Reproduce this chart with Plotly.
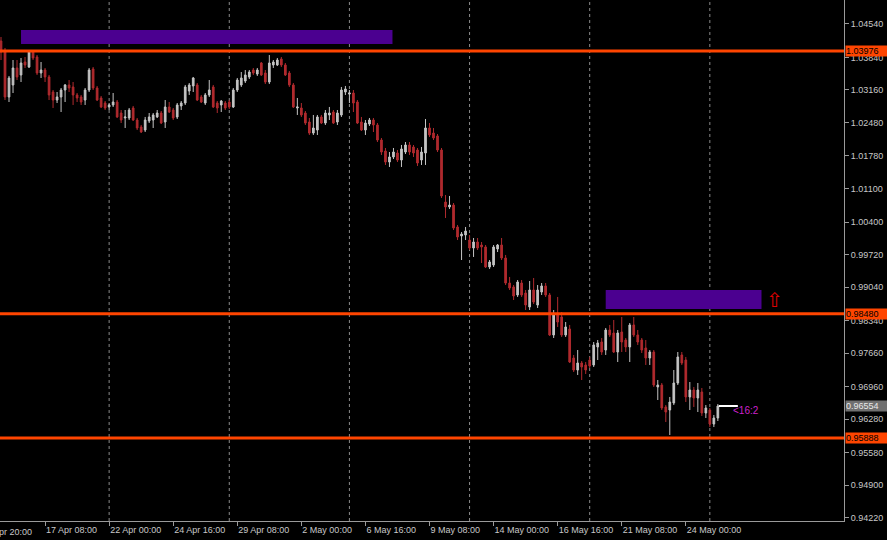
import plotly.graph_objects as go

# ---------------- data (H4 candles, index 0 = first visible bar) ----------------
opens = [1.04183, 1.03953, 1.03013, 1.03264, 1.03619, 1.03473, 1.03744, 1.03640, 1.03953, 1.03849,
         1.03514, 1.03577, 1.03431, 1.03117, 1.02950, 1.03013, 1.03159, 1.03264, 1.03222, 1.03055,
         1.03013, 1.02950, 1.03159, 1.03598, 1.03201, 1.02992, 1.02887, 1.02804, 1.02846, 1.02908,
         1.02678, 1.02574, 1.02574, 1.02783, 1.02532, 1.02386, 1.02323, 1.02511, 1.02532, 1.02595,
         1.02678, 1.02490, 1.02804, 1.02741, 1.02595, 1.02825, 1.02887, 1.03138, 1.03243, 1.03264,
         1.03013, 1.02887, 1.03055, 1.03222, 1.02887, 1.02846, 1.02887, 1.02908, 1.02804, 1.03159,
         1.03264, 1.03347, 1.03431, 1.03577, 1.03493, 1.03723, 1.03514, 1.03326, 1.03682, 1.03682,
         1.03807, 1.03682, 1.03514, 1.03264, 1.02783, 1.02783, 1.02678, 1.02490, 1.02260, 1.02323,
         1.02595, 1.02469, 1.02637, 1.02699, 1.02490, 1.02637, 1.03117, 1.03075, 1.03096, 1.02908,
         1.02490, 1.02323, 1.02448, 1.02532, 1.02428, 1.02114, 1.01884, 1.01654, 1.01759, 1.01842,
         1.01696, 1.01863, 1.02010, 1.01968, 1.01905, 1.01696, 1.01842, 1.02365, 1.02260, 1.02198,
         1.01905, 1.00818, 1.00714, 1.00755, 1.00296, 1.00108, 1.00129, 1.00024, 0.99857, 0.99982,
         0.99919, 0.99878, 0.99460, 0.99502, 0.99836, 0.99919, 0.99648, 0.99125, 0.99042, 0.98875,
         0.99125, 0.98916, 0.98624, 0.98979, 0.98665, 0.98937, 0.99063, 0.98875, 0.98039, 0.98457,
         0.98415, 0.98039, 0.98164, 0.97558, 0.97307, 0.97453, 0.97412, 0.97516, 0.97412, 0.97788,
         0.97892, 0.97725, 0.98143, 0.98080, 0.97683, 0.98101, 0.97934, 0.97788, 0.98248, 0.98039,
         0.97934, 0.97767, 0.97558, 0.97683, 0.96952, 0.96993, 0.96534, 0.96471, 0.96617, 0.97035,
         0.97621, 0.97516, 0.96743, 0.96889, 0.96722, 0.96847, 0.96408, 0.96471, 0.96178, 0.96304]
highs = [1.04267, 1.04037, 1.03452, 1.03786, 1.03786, 1.03828, 1.03849, 1.03995, 1.03995, 1.03890,
         1.03744, 1.03619, 1.03473, 1.03159, 1.03117, 1.03201, 1.03284, 1.03368, 1.03326, 1.03096,
         1.03055, 1.03201, 1.03619, 1.03640, 1.03243, 1.03034, 1.02929, 1.02887, 1.03096, 1.02950,
         1.02741, 1.02741, 1.02783, 1.02825, 1.02574, 1.02428, 1.02595, 1.02678, 1.02678, 1.02741,
         1.02720, 1.02950, 1.02908, 1.02783, 1.02887, 1.02929, 1.03264, 1.03305, 1.03431, 1.03305,
         1.03055, 1.03096, 1.03368, 1.03264, 1.02929, 1.02950, 1.02929, 1.02950, 1.03201, 1.03410,
         1.03535, 1.03577, 1.03577, 1.03619, 1.03619, 1.03744, 1.03577, 1.03890, 1.03786, 1.03828,
         1.03849, 1.03723, 1.03556, 1.03305, 1.02992, 1.02887, 1.02720, 1.02574, 1.02637, 1.02637,
         1.02637, 1.02741, 1.02804, 1.02741, 1.02741, 1.03222, 1.03243, 1.03159, 1.03159, 1.02950,
         1.02595, 1.02532, 1.02574, 1.02574, 1.02469, 1.02156, 1.01947, 1.01863, 1.01947, 1.01905,
         1.02010, 1.02072, 1.02072, 1.02010, 1.01947, 1.01968, 1.02553, 1.02469, 1.02365, 1.02239,
         1.01947, 1.00964, 1.00944, 1.00797, 1.00338, 1.00191, 1.00296, 1.00129, 1.00066, 1.00066,
         0.99982, 0.99919, 0.99606, 0.99919, 0.99940, 1.00066, 0.99711, 0.99251, 0.99083, 0.99188,
         0.99188, 0.98979, 0.99167, 0.99230, 0.99083, 0.99125, 0.99125, 0.98916, 0.98561, 0.98833,
         0.98519, 0.98310, 0.98248, 0.97621, 0.97725, 0.97495, 0.97474, 0.97579, 0.97892, 0.97934,
         0.97976, 0.98185, 0.98248, 0.98352, 0.98143, 0.98415, 0.97976, 0.98289, 0.98415, 0.98143,
         0.97976, 0.97934, 0.97725, 0.97725, 0.97098, 0.97035, 0.96575, 0.96743, 0.97307, 0.97683,
         0.97683, 0.97579, 0.97056, 0.96952, 0.97035, 0.96931, 0.96575, 0.96513, 0.96367, 0.96596]
lows = [1.03786, 1.02950, 1.02908, 1.03096, 1.03368, 1.03326, 1.03619, 1.03619, 1.03786, 1.03473,
        1.03410, 1.03326, 1.02950, 1.02783, 1.02887, 1.02699, 1.02908, 1.03117, 1.02846, 1.02908,
        1.02846, 1.02846, 1.03117, 1.03159, 1.02929, 1.02783, 1.02741, 1.02741, 1.02804, 1.02574,
        1.02469, 1.02365, 1.02532, 1.02511, 1.02323, 1.02260, 1.02281, 1.02469, 1.02365, 1.02574,
        1.02448, 1.02365, 1.02678, 1.02532, 1.02553, 1.02741, 1.02846, 1.03055, 1.03117, 1.02929,
        1.02887, 1.02846, 1.03013, 1.02783, 1.02678, 1.02699, 1.02741, 1.02762, 1.02783, 1.03117,
        1.03222, 1.03305, 1.03389, 1.03473, 1.03452, 1.03452, 1.03284, 1.03284, 1.03619, 1.03661,
        1.03640, 1.03452, 1.03222, 1.02783, 1.02637, 1.02595, 1.02428, 1.02219, 1.02219, 1.02219,
        1.02448, 1.02428, 1.02532, 1.02448, 1.02428, 1.02595, 1.03055, 1.02887, 1.02699, 1.02448,
        1.02302, 1.02219, 1.02407, 1.02281, 1.02072, 1.01801, 1.01592, 1.01550, 1.01717, 1.01654,
        1.01550, 1.01821, 1.01801, 1.01759, 1.01571, 1.01592, 1.01592, 1.02177, 1.02114, 1.01863,
        1.00902, 1.00484, 1.00672, 1.00233, 1.00024, 0.99606, 1.00024, 0.99815, 0.99669, 0.99815,
        0.99543, 0.99439, 0.99418, 0.99460, 0.99773, 0.99606, 0.99083, 0.98979, 0.98770, 0.98833,
        0.98833, 0.98561, 0.98561, 0.98686, 0.98603, 0.98875, 0.98833, 0.98018, 0.97976, 0.98206,
        0.97997, 0.97997, 0.97453, 0.97265, 0.97203, 0.97098, 0.97223, 0.97349, 0.97370, 0.97516,
        0.97621, 0.97621, 0.97997, 0.97662, 0.97474, 0.97683, 0.97683, 0.97474, 0.97997, 0.97830,
        0.97662, 0.97412, 0.97412, 0.96952, 0.96680, 0.96471, 0.96220, 0.95948, 0.96575, 0.96993,
        0.97412, 0.96638, 0.96471, 0.96534, 0.96429, 0.96346, 0.96304, 0.96115, 0.96115, 0.96241]
closes = [1.03953, 1.03013, 1.03410, 1.03619, 1.03431, 1.03723, 1.03682, 1.03953, 1.03828, 1.03514,
          1.03577, 1.03431, 1.03055, 1.02950, 1.03013, 1.03159, 1.03264, 1.03201, 1.03055, 1.02992,
          1.02908, 1.03159, 1.03577, 1.03201, 1.02950, 1.02804, 1.02783, 1.02846, 1.02908, 1.02595,
          1.02532, 1.02595, 1.02741, 1.02532, 1.02365, 1.02281, 1.02532, 1.02595, 1.02637, 1.02678,
          1.02469, 1.02804, 1.02699, 1.02574, 1.02846, 1.02887, 1.03222, 1.03264, 1.03410, 1.02950,
          1.02908, 1.03055, 1.03159, 1.02804, 1.02783, 1.02929, 1.02783, 1.02804, 1.03159, 1.03368,
          1.03410, 1.03473, 1.03535, 1.03514, 1.03577, 1.03473, 1.03326, 1.03723, 1.03744, 1.03786,
          1.03682, 1.03473, 1.03264, 1.02804, 1.02804, 1.02637, 1.02469, 1.02260, 1.02365, 1.02595,
          1.02469, 1.02678, 1.02678, 1.02469, 1.02678, 1.03159, 1.03180, 1.03096, 1.02887, 1.02469,
          1.02323, 1.02469, 1.02532, 1.02428, 1.02114, 1.01863, 1.01654, 1.01759, 1.01863, 1.01696,
          1.01926, 1.02010, 1.01863, 1.01842, 1.01633, 1.01863, 1.02365, 1.02219, 1.02156, 1.01905,
          1.00944, 1.00714, 1.00755, 1.00275, 1.00087, 1.00149, 1.00212, 0.99857, 0.99982, 0.99857,
          0.99878, 0.99460, 0.99564, 0.99878, 0.99919, 0.99648, 0.99125, 0.99021, 0.98854, 0.99146,
          0.98875, 0.98665, 0.98979, 0.98728, 0.98979, 0.99063, 0.98875, 0.98039, 0.98457, 0.98310,
          0.98039, 0.98206, 0.97474, 0.97307, 0.97453, 0.97370, 0.97307, 0.97391, 0.97830, 0.97871,
          0.97683, 0.98143, 0.98039, 0.97683, 0.98080, 0.97892, 0.97788, 0.98248, 0.98039, 0.97892,
          0.97725, 0.97558, 0.97683, 0.96993, 0.96993, 0.96513, 0.96429, 0.96638, 0.97035, 0.97579,
          0.97453, 0.96743, 0.96889, 0.96722, 0.96889, 0.96408, 0.96513, 0.96178, 0.96304, 0.96554]

bar_index = list(range(len(closes)))

# time-axis labels (bar index where each label's tick sits)
time_tick_idx = [11, 27, 43, 59, 75, 91, 107, 123, 139, 155, 171]
time_tick_text = ["17 Apr 08:00", "22 Apr 00:00", "24 Apr 16:00", "29 Apr 08:00", "2 May 00:00",
                  "6 May 16:00", "9 May 08:00", "14 May 00:00", "16 May 16:00", "21 May 08:00",
                  "24 May 00:00"]
first_label_text = "12 Apr 20:00"
week_grid_idx = [27, 57, 87, 117, 147, 177]

price_ticks = [1.04540, 1.03840, 1.03160, 1.02480, 1.01780, 1.01100, 1.00400, 0.99720,
               0.99040, 0.98340, 0.97660, 0.96960, 0.96280, 0.95580, 0.94900, 0.94220]
price_tick_text = ["%.5f" % v for v in price_ticks]

levels = [1.03976, 0.98480, 0.95888]
bid_price = 0.96554

zones_x0 = [5.0, 151.0]
zones_x1 = [97.75, 189.9]
zones_y0 = [1.04120, 0.98582]
zones_y1 = [1.04413, 0.98979]

arrow_pos = (193.1, 0.98780)
timer_text = "<16:2"
timer_pos = (182.3, 0.96471)
timer_line_x = [179.25, 184.0]

# ---------------- styling ----------------
BG = "#000000"
BULL = "#C4C4C4"
BEAR = "#B02A2E"
LEVEL = "#FF4500"
ZONE = "#4B0090"
AXIS = "#9A9A9A"
TEXT = "#C8C8C8"
FONT = "Liberation Sans"

fig = go.Figure()
fig.add_trace(go.Candlestick(
    x=bar_index, open=opens, high=highs, low=lows, close=closes,
    increasing=dict(line=dict(color=BULL, width=1), fillcolor=BULL),
    decreasing=dict(line=dict(color=BEAR, width=1), fillcolor=BEAR),
    whiskerwidth=0, hoverinfo="skip", showlegend=False))

shapes = []
for gx in week_grid_idx:
    shapes.append(dict(type="line", xref="x", yref="paper", x0=gx, x1=gx, y0=0, y1=1,
                       line=dict(color="#8A8A8A", width=1, dash="3px,3px"), layer="below"))
for x0, x1, y0, y1 in zip(zones_x0, zones_x1, zones_y0, zones_y1):
    shapes.append(dict(type="rect", xref="x", yref="y", x0=x0, x1=x1, y0=y0, y1=y1,
                       fillcolor=ZONE, line=dict(width=0), layer="above"))
for lv in levels:
    shapes.append(dict(type="line", xref="paper", yref="y", x0=0, x1=1, y0=lv, y1=lv,
                       line=dict(color=LEVEL, width=3), layer="above"))
shapes.append(dict(type="line", xref="x", yref="y", x0=timer_line_x[0], x1=timer_line_x[1],
                   y0=bid_price, y1=bid_price, line=dict(color="#FFFFFF", width=2)))

annotations = []
for lv in levels:
    annotations.append(dict(xref="paper", yref="y", x=1, y=lv, xanchor="left", yanchor="middle",
                            xshift=1, text="%.5f" % lv, showarrow=False, bgcolor=LEVEL,
                            font=dict(family=FONT, size=9, color="#000000"),
                            width=44, align="left", borderpad=0))
annotations.append(dict(xref="paper", yref="y", x=1, y=bid_price, xanchor="left", yanchor="middle",
                        xshift=1, text="%.5f" % bid_price, showarrow=False, bgcolor="#707070",
                        font=dict(family=FONT, size=9, color="#E8E8E8"),
                        width=44, align="left", borderpad=0))
annotations.append(dict(xref="x", yref="y", x=arrow_pos[0], y=arrow_pos[1], text="⇧",
                        showarrow=False, font=dict(family="DejaVu Sans", size=20, color="#E00000")))
annotations.append(dict(xref="x", yref="y", x=timer_pos[0], y=timer_pos[1], text=timer_text,
                        xanchor="left", showarrow=False,
                        font=dict(family=FONT, size=10, color="#CC22CC")))
annotations.append(dict(xref="paper", yref="paper", x=0, y=0, xanchor="right", yanchor="top",
                        xshift=34, yshift=-4, text=first_label_text, showarrow=False,
                        font=dict(family=FONT, size=9, color=TEXT)))

fig.update_layout(
    width=887, height=540,
    margin=dict(l=0, r=43, t=0, b=19),
    paper_bgcolor=BG, plot_bgcolor=BG,
    boxgap=0.4,
    shapes=shapes, annotations=annotations,
    showlegend=False,
    xaxis=dict(range=[-0.25, 210.5], rangeslider=dict(visible=False), showgrid=False,
               zeroline=False, showline=True, linecolor=AXIS, linewidth=1,
               ticks="outside", ticklen=4, tickcolor=AXIS,
               tickvals=time_tick_idx, ticktext=time_tick_text,
               ticklabelposition="outside right",
               tickfont=dict(family=FONT, size=9, color=TEXT), fixedrange=True),
    yaxis=dict(range=[0.94151, 1.0504], side="right", showgrid=False, zeroline=False,
               showline=True, linecolor=AXIS, linewidth=1, ticks="outside", ticklen=4,
               tickcolor=AXIS, tickvals=price_ticks, ticktext=price_tick_text,
               tickfont=dict(family=FONT, size=9, color=TEXT), fixedrange=True),
)

fig.write_html("out.html", config={"displayModeBar": False},
               post_script="document.body.style.margin='0';document.body.style.background='#000';")
